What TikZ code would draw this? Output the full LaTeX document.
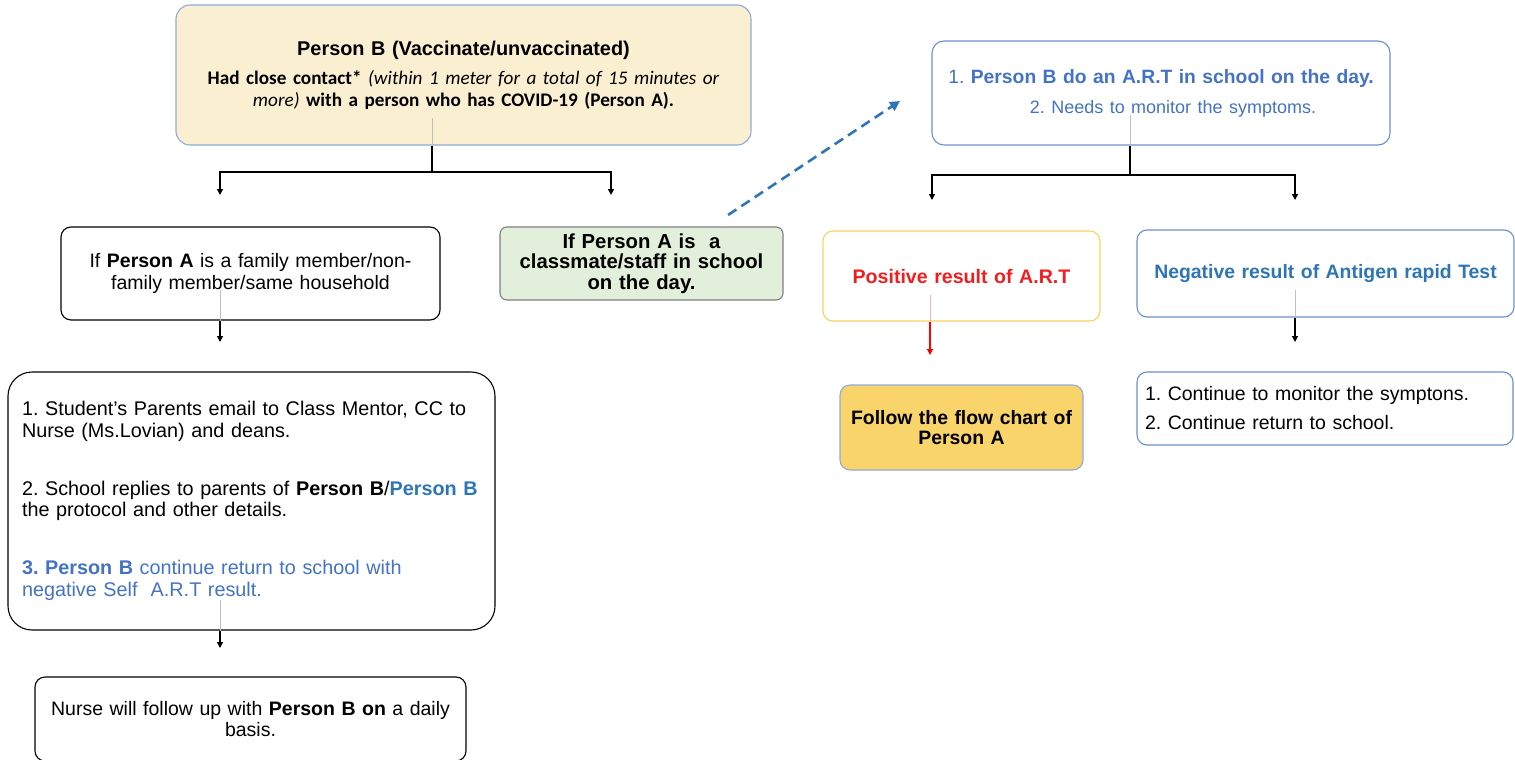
\documentclass[tikz,border=0pt]{standalone}
\usepackage{fontspec}
\setmainfont{Liberation Sans}
\newfontfamily\calfont{Carlito}
\usetikzlibrary{calc,arrows.meta}
\frenchspacing

\definecolor{topfill}{HTML}{FBEFD1}
\definecolor{topline}{HTML}{8FAADC}
\definecolor{clsfill}{HTML}{E2EFDA}
\definecolor{clsline}{HTML}{7F7F7F}
\definecolor{artblue}{HTML}{4472C4}
\definecolor{artline}{HTML}{6A8FD0}
\definecolor{negblue}{HTML}{2E75B6}
\definecolor{posline}{HTML}{F7D35E}
\definecolor{posred}{HTML}{F01E1E}
\definecolor{followfill}{HTML}{F9D46B}

\begin{document}
\begin{tikzpicture}[x=1pt,y=-1pt,
  box/.style={draw, rounded corners=10pt, line width=1.1pt, inner sep=0pt,
    font=\fontsize{19.5}{21.5}\selectfont},
  line/.style={line width=1.3pt},
  arr/.style={line width=1.3pt, -{Triangle[length=6pt,width=6pt]}},
  ghost/.style={black!25, line width=0.6pt}]
  \useasboundingbox (0,0) rectangle (1515,760);

  % ends of the connectors
  \coordinate (t0) at (432,118);
  \coordinate (tj) at (432,172);
  \coordinate (tl) at (220,195);
  \coordinate (tr) at (611,195);
  \coordinate (f0) at (220,290);
  \coordinate (f1) at (220,342);
  \coordinate (s0) at (220,600);
  \coordinate (s1) at (220,648);
  \coordinate (d0) at (728,215);
  \coordinate (d1) at (900,101);
  \coordinate (a0) at (1130,115);
  \coordinate (aj) at (1130,175);
  \coordinate (al) at (932,200);
  \coordinate (ar) at (1295,200);
  \coordinate (p0) at (930,295);
  \coordinate (p1) at (930,355);
  \coordinate (n0) at (1295,290);
  \coordinate (n1) at (1295,342);

  % left side
  \node[box, draw=topline, fill=topfill, rounded corners=14pt, minimum width=575pt,
    minimum height=140pt, text width=570pt, align=center] (top) at (463.5,75)
    {{\fontsize{19.9}{22}\selectfont\bfseries Person B (Vaccinate/unvaccinated)}\\[6pt]
     {\calfont\fontsize{19.2}{23.5}\selectfont\bfseries Had close contact*
      {\mdseries\itshape (within 1 meter for a total of 15 minutes or\\ more)}
      with a person who has COVID-19 (Person A).}};

  \node[box, minimum width=379pt, minimum height=93pt, text width=370pt,
    align=center] (fam) at (250.5,273.5)
    {If \textbf{Person A} is a family member/non-\\family member/same household};

  \node[box, draw=clsline, fill=clsfill, rounded corners=7pt, minimum width=283pt,
    minimum height=73pt, text width=280pt, align=center,
    font=\fontsize{20.3}{20.5}\selectfont\bfseries] (cls) at (641.5,263.5)
    {If Person A is \ a\\classmate/staff in school\\on the day.};

  \node[box, rounded corners=24pt, minimum width=487pt, minimum height=258pt,
    text width=459pt, align=left, font=\fontsize{19.8}{21.5}\selectfont] (steps) at (251.5,501)
    {1. Student's Parents email to Class Mentor, CC to\\
     Nurse (Ms.Lovian) and deans.\\[36.5pt]
     2. School replies to parents of \textbf{Person B}/\textcolor{negblue}{\textbf{Person B}}\\
     the protocol and other details.\\[36.5pt]
     {\color{artblue}\textbf{3. Person B} continue return to school with\\
     negative Self \ A.R.T result.}};

  \node[box, minimum width=431pt, minimum height=84pt, text width=425pt,
    align=center] (nurse) at (250.5,719)
    {Nurse will follow up with \textbf{Person B on} a daily\\basis.};

  % right side
  \node[box, draw=artline, rounded corners=12pt, minimum width=458pt,
    minimum height=104pt, text width=450pt, align=center,
    font=\fontsize{19.3}{30}\selectfont\color{artblue}] (art) at (1161,93)
    {1. \textbf{Person B do an A.R.T in school on the day.}\\
     \hspace*{24pt}{\fontsize{18}{30}\selectfont 2. Needs to monitor the symptoms.}};

  \node[box, draw=posline, minimum width=277pt, minimum height=90pt,
    text width=270pt, align=center,
    font=\fontsize{19.6}{22}\selectfont\bfseries\color{posred}] (pos) at (961.5,276)
    {Positive result of A.R.T};

  \node[box, draw=artline, minimum width=377pt, minimum height=87pt,
    text width=372pt, align=center,
    font=\fontsize{19.4}{22}\selectfont\bfseries\color{negblue}] (neg) at (1325.5,273.5)
    {Negative result of Antigen rapid Test};

  \node[box, draw=topline, fill=followfill, minimum width=243pt, minimum height=85pt,
    text width=240pt, align=center,
    font=\fontsize{19.4}{20.5}\selectfont\bfseries] (follow) at (961.5,427.5)
    {Follow the flow chart of\\Person A};

  \node[box, draw=artline, minimum width=376pt, minimum height=73pt,
    text width=360pt, align=left,
    font=\fontsize{19.5}{29}\selectfont] (cont) at (1325,408.5)
    {1. Continue to monitor the symptons.\\
     2. Continue return to school.};

  % connectors
  \draw[ghost] (t0) -- (t0 |- top.south);
  \draw[line] (t0 |- top.south) -- (tj);
  \draw[arr] (tj) -| (tl);
  \draw[arr] (tj) -| (tr);

  \draw[ghost] (f0) -- (f0 |- fam.south);
  \draw[arr] (f0 |- fam.south) -- (f1);

  \draw[ghost] (s0) -- (s0 |- steps.south);
  \draw[arr] (s0 |- steps.south) -- (s1);

  \draw[negblue, line width=2.6pt, dash pattern=on 10pt off 6pt,
    -{Triangle[length=10pt,width=10pt]}] (d0) -- (d1);

  \draw[ghost] (a0) -- (a0 |- art.south);
  \draw[line] (a0 |- art.south) -- (aj);
  \draw[arr] (aj) -| (al);
  \draw[arr] (aj) -| (ar);

  \draw[ghost, red!30] (p0) -- (p0 |- pos.south);
  \draw[arr, red] (p0 |- pos.south) -- (p1);

  \draw[ghost] (n0) -- (n0 |- neg.south);
  \draw[arr] (n0 |- neg.south) -- (n1);
\end{tikzpicture}
\end{document}
